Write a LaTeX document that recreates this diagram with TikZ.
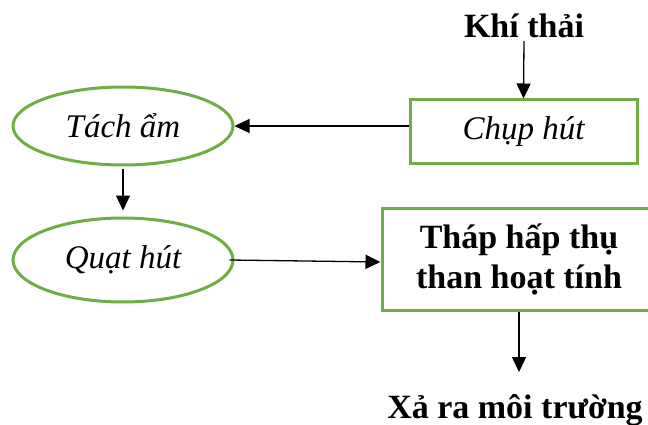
\documentclass[tikz,border=0pt]{standalone}
\usepackage{fontspec}
\setmainfont{Liberation Serif}
\usetikzlibrary{arrows.meta,shapes.geometric}
\definecolor{boxgreen}{RGB}{112,173,71}
\tikzset{
  procbox/.style={draw=boxgreen, line width=3pt, rectangle, inner sep=0pt},
  procoval/.style={draw=boxgreen, line width=3pt, ellipse, inner sep=0pt,
                   minimum width=220pt, minimum height=78pt},
  itlabel/.style={font=\fontsize{33}{38}\selectfont\itshape},
  bdlabel/.style={font=\fontsize{34}{40}\selectfont\bfseries},
  flow/.style={line width=1.3pt, -{Triangle[length=15pt,width=14pt]}}
}
\begin{document}
\begin{tikzpicture}[x=1pt,y=-1pt]
  \useasboundingbox (0,0) rectangle (648,425);
  \clip (0,0) rectangle (648,425);

  % nodes of the flow
  \node[bdlabel, inner sep=3pt] (khi) at (524,26) {Khí thải};
  \node[procbox, minimum width=227pt, minimum height=64pt, itlabel] (chup) at (523.5,132) {Chụp hút};
  \node[procoval, itlabel] (tach) at (123,126) {Tách ẩm};
  \node[procoval, minimum height=84pt, itlabel] (quat) at (123,260) {Quạt hút};
  \node[procbox, minimum width=274pt, minimum height=102pt, bdlabel, align=center] (thap) at (519,259)
       {Tháp hấp thụ\\than hoạt tính};
  \node[bdlabel, inner sep=2pt] (xa) at (515,410) {Xả ra môi trường};

  % connectors
  \draw[flow] (khi.south) -- (chup.north);
  \draw[flow] (chup.west |- tach.east) -- (tach.east);
  \draw[flow] ([yshift=-3pt]tach.south) -- ([yshift=6pt]quat.north);
  \draw[flow] ([xshift=-5pt]quat.east) -- ([yshift=-3pt]thap.west);
  \draw[flow] (thap.south) -- ([yshift=20pt]xa.north -| thap.south);
\end{tikzpicture}
\end{document}
